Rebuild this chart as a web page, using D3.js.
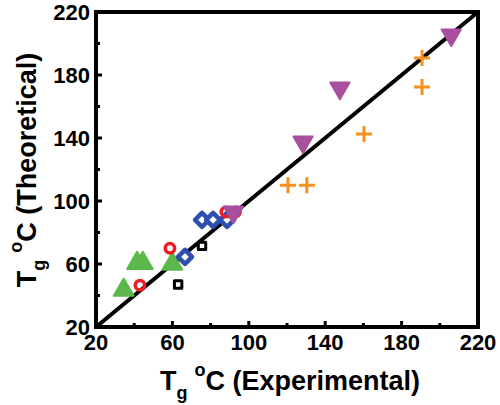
<!DOCTYPE html>
<html><head><meta charset="utf-8">
<script src="https://cdn.jsdelivr.net/npm/d3@7"></script>
<style>body{margin:0;background:#fff}text{font-family:"Liberation Sans",Arial,sans-serif;font-weight:bold}</style>
</head><body><svg id="c" width="500" height="405"></svg>
<script>
const ticks = [20, 60, 100, 140, 180, 220];
const greenUp = [[34.5, 43.5], [41.5, 60.5], [44.5, 60.5], [60, 60]];
const redCircle = [[43, 46.5], [58.7, 70], [88, 93], [93, 93]];
const blackSquare = [[63, 47], [75.5, 71.5]];
const blueDiamond = [[66.6, 64.5], [75.5, 88], [81.3, 88], [88.6, 88]];
const magentaDown = [[92, 93], [128.4, 137.5], [147.7, 171.7], [206, 205.4]];
const orangePlus = [[120.5, 110], [130.4, 110], [160.3, 142.5], [190.7, 190.8], [190.7, 172.4]];

const svg = d3.select("#c");
const x = d3.scaleLinear().domain([20, 220]).range([96, 478]);
const y = d3.scaleLinear().domain([20, 220]).range([327, 12]);

const g = svg.append("g");
// tick marks, inward
d3.range(20, 221, 20).forEach(v => {
  const len = ticks.includes(v) ? 6 : 4;
  g.append("line").attr("x1", x(v)).attr("x2", x(v)).attr("y1", y(20)).attr("y2", y(20) - len)
    .attr("stroke", "#000").attr("stroke-width", 3);
  g.append("line").attr("x1", x(20)).attr("x2", x(20) + len).attr("y1", y(v)).attr("y2", y(v))
    .attr("stroke", "#000").attr("stroke-width", 3);
});
ticks.forEach(v => {
  g.append("text").attr("x", x(v)).attr("y", 350).attr("text-anchor", "middle").attr("font-size", 22).text(v);
  g.append("text").attr("x", x(20) - 6).attr("y", y(v) + 8).attr("text-anchor", "end").attr("font-size", 22).text(v);
});

// diagonal
g.append("line").attr("x1", x(20)).attr("y1", y(20)).attr("x2", x(220)).attr("y2", y(220))
  .attr("stroke", "#000").attr("stroke-width", 4);

function pts(data, type, size, fill, stroke, sw) {
  g.selectAll(null).data(data).enter().append("path")
    .attr("transform", d => `translate(${x(d[0])},${y(d[1])})${type === "down" ? " rotate(180)" : ""}`)
    .attr("d", d3.symbol().type(type === "down" ? d3.symbolTriangle : type).size(size))
    .attr("fill", fill).attr("stroke", stroke).attr("stroke-width", sw).attr("stroke-linejoin", "round");
}
pts(greenUp, d3.symbolTriangle, 170, "#5cb84a", "#5cb84a", 2);
pts(blackSquare, d3.symbolSquare, 55, "none", "#000", 3);
g.selectAll(null).data(blueDiamond).enter().append("path")
  .attr("d", d => `M${x(d[0]) - 7},${y(d[1])}L${x(d[0])},${y(d[1]) - 7}L${x(d[0]) + 7},${y(d[1])}L${x(d[0])},${y(d[1]) + 7}Z`)
  .attr("fill", "#fff").attr("stroke", "#2e4fb0").attr("stroke-width", 4.5).attr("stroke-linejoin", "round");
pts(redCircle, d3.symbolCircle, 70, "none", "#ee1c24", 3.5);
pts(magentaDown, "down", 160, "#a84f9f", "#a84f9f", 2);
g.selectAll(null).data(orangePlus).enter().append("path")
  .attr("d", d => `M${x(d[0]) - 8},${y(d[1])}h16M${x(d[0])},${y(d[1]) - 8}v16`)
  .attr("stroke", "#f7901e").attr("stroke-width", 3);

// frame
g.append("rect").attr("x", x(20)).attr("y", y(220)).attr("width", x(220) - x(20)).attr("height", y(20) - y(220))
  .attr("fill", "none").attr("stroke", "#000").attr("stroke-width", 4);

// axis titles
const xt = svg.append("text").attr("x", 290).attr("y", 390).attr("text-anchor", "middle").attr("font-size", 27);
xt.append("tspan").text("T");
xt.append("tspan").attr("font-size", 18).attr("dy", 9).text("g");
xt.append("tspan").attr("font-size", 18).attr("dy", -23).attr("dx", 7).text("o");
xt.append("tspan").attr("dy", 14).text("C (Experimental)");

const yt = svg.append("text").attr("transform", "translate(36,170) rotate(-90)").attr("text-anchor", "middle").attr("font-size", 27);
yt.append("tspan").text("T");
yt.append("tspan").attr("font-size", 18).attr("dy", 9).text("g");
yt.append("tspan").attr("font-size", 18).attr("dy", -23).attr("dx", 7).text("o");
yt.append("tspan").attr("dy", 14).text("C (Theoretical)");
</script></body></html>
